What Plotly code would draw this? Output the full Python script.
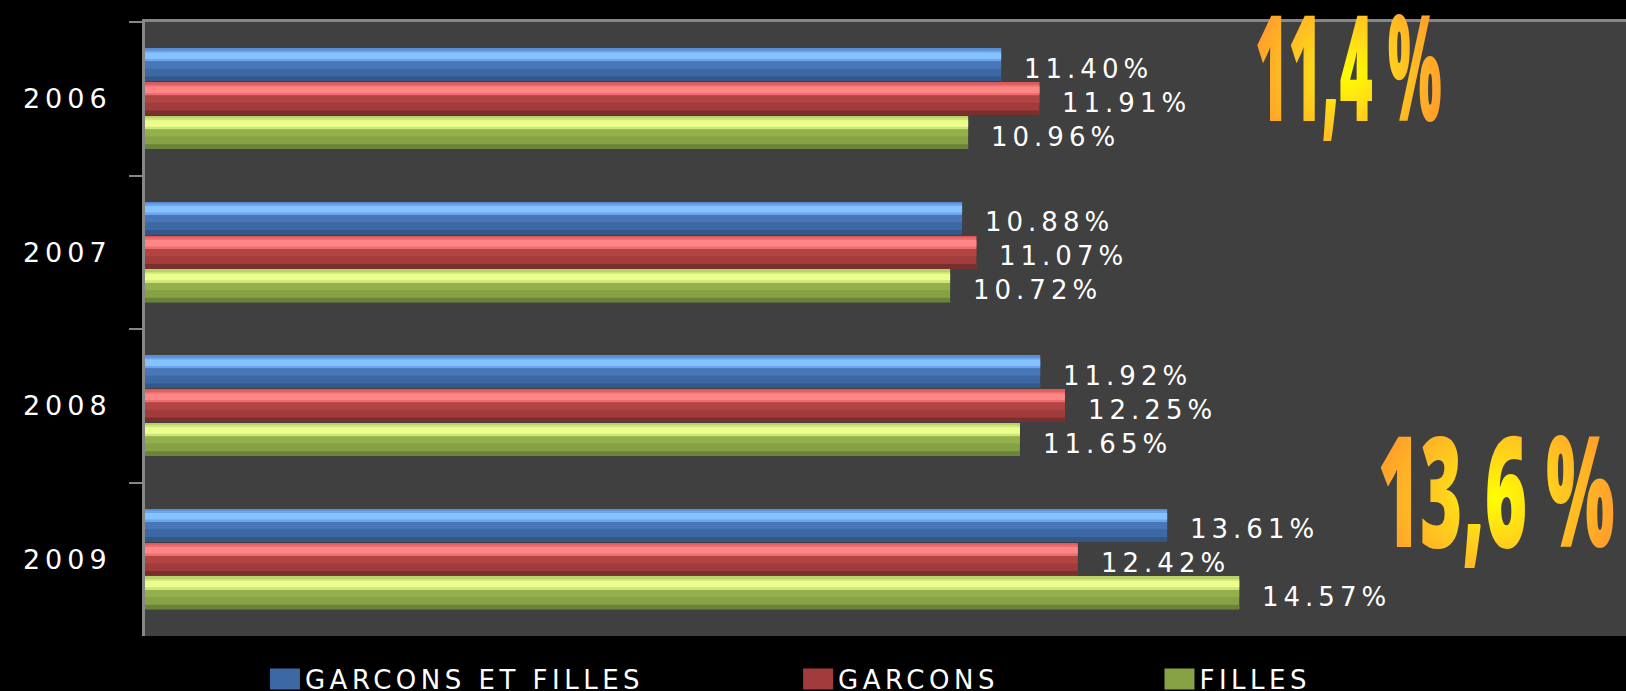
import json
import plotly.graph_objects as go

# ---- data ----
years = ["2006", "2007", "2008", "2009"]
garcons_et_filles = [11.40, 10.88, 11.92, 13.61]
garcons = [11.91, 11.07, 12.25, 12.42]
filles = [10.96, 10.72, 11.65, 14.57]
series_names = ["GARCONS ET FILLES", "GARCONS", "FILLES"]
callouts = ["11,4 %", "13,6 %"]

# ---- style ----
BAR_W = 0.211
STEP = 0.221
centers = [-STEP, 0.0, STEP]
palettes = [
    dict(base="#3c68a4", mid="#4876b8", light1="#6ca6ea", light2="#86c2ff", dark="#33578a", edge="#5a8ed4"),
    dict(base="#a23c3c", mid="#b24444", light1="#ee6e6e", light2="#ff8686", dark="#7a2f2f", edge="#d85c5c"),
    dict(base="#86a244", mid="#93b04c", light1="#cce67a", light2="#ecff8e", dark="#6b8338", edge="#b8d468"),
]
layers = [
    (0.00, 1.00, "base"),
    (0.00, 0.05, "edge"),
    (0.05, 0.40, "light1"),
    (0.12, 0.32, "light2"),
    (0.40, 0.62, "mid"),
    (0.86, 1.00, "dark"),
]

values = [garcons_et_filles, garcons, filles]
legend_ids = ["legend", "legend2", "legend3"]
legend_x = [0.081, 0.441, 0.685]

fig = go.Figure()
LS = "letter-spacing:4.5px"
for si, (vals, name) in enumerate(zip(values, series_names)):
    pal = palettes[si]
    for li, (a, b, key) in enumerate(layers):
        fig.add_trace(go.Bar(
            x=vals, y=years, orientation="h",
            offset=centers[si] - BAR_W / 2 + a * BAR_W,
            width=(b - a) * BAR_W,
            marker=dict(color=pal[key], line=dict(width=0)),
            name=f'<span style="{LS}">{name}</span>',
            showlegend=(li == 0),
            legend=legend_ids[si],
            hoverinfo="skip" if li else "x+y",
        ))

annotations = []
for si, vals in enumerate(values):
    for yi, v in enumerate(vals):
        annotations.append(dict(
            x=v, y=yi + centers[si], xref="x", yref="y",
            text=f'<span style="letter-spacing:5px">{v:.2f}%</span>',
            showarrow=False, xanchor="left", yanchor="middle",
            xshift=21, yshift=-4,
            font=dict(family="DejaVu Sans", size=26, color="white"),
        ))

big_font = dict(family="Noto Sans", size=148, color="#FFB02A", weight=900)
annotations.append(dict(
    x=0.8126, y=0.933, xref="paper", yref="paper", text=callouts[0],
    showarrow=False, xanchor="center", yanchor="middle", font=big_font,
))
annotations.append(dict(
    x=0.912, y=0.242, xref="paper", yref="paper", text=callouts[1],
    showarrow=False, xanchor="center", yanchor="middle", font=dict(big_font, size=154),
))

legend_common = dict(
    orientation="h", yanchor="middle", y=-0.07, xanchor="left",
    bgcolor="rgba(0,0,0,0)", font=dict(family="DejaVu Sans", size=26, color="white"),
)
layout_legends = {}
for lid, lx in zip(legend_ids, legend_x):
    layout_legends[lid] = dict(legend_common, x=lx)

fig.update_layout(
    width=1626, height=691,
    margin=dict(l=145, r=0, t=22, b=55, autoexpand=False),
    paper_bgcolor="black", plot_bgcolor="#404040",
    barmode="overlay",
    showlegend=True,
    annotations=annotations,
    xaxis=dict(range=[0, 19.72], showgrid=False, zeroline=False, showticklabels=False,
               ticks="", side="top", showline=True, linecolor="#878787", linewidth=3),
    yaxis=dict(type="category", categoryorder="array", categoryarray=years,
               range=[3.5, -0.5], showgrid=False, zeroline=False,
               showline=True, linecolor="#878787", linewidth=3,
               ticks="outside", tickson="boundaries", ticklen=13, tickwidth=2, tickcolor="#878787",
               tickfont=dict(family="DejaVu Sans", size=27, color="white"),
               labelalias={y: f'<span style="letter-spacing:5px">{y}</span>' for y in years},
               ticklabelstandoff=25),
    **layout_legends,
)

# condensed, gradient-filled call-out texts (Impact-like look) and larger legend swatches
scales = {callouts[0]: 0.385, callouts[1]: 0.47}
post = """
document.body.style.margin='0px';
document.body.style.background='black';
document.body.style.overflow='hidden';
var gd = document.getElementById('{plot_id}');
var scales = %s;
var NS = 'http://www.w3.org/2000/svg';
var svgs = gd.querySelectorAll('svg.main-svg');
var top = svgs[svgs.length-1];
var defs = document.createElementNS(NS, 'defs');
var g = document.createElementNS(NS, 'radialGradient');
g.setAttribute('id', 'calloutGrad');
g.setAttribute('cx', '50%%'); g.setAttribute('cy', '55%%'); g.setAttribute('r', '55%%');
[['0%%','#ffff00'],['40%%','#ffd21c'],['100%%','#ff982e']].forEach(function(s){
  var st = document.createElementNS(NS, 'stop');
  st.setAttribute('offset', s[0]); st.setAttribute('stop-color', s[1]);
  g.appendChild(st);
});
defs.appendChild(g);
top.insertBefore(defs, top.firstChild);
gd.querySelectorAll('text.annotation-text').forEach(function(t){
  var k = t.textContent.replace(/\\u00a0/g, ' ');
  if (scales[k]) {
    t.style.transformBox = 'fill-box';
    t.style.transformOrigin = '50%% 50%%';
    t.style.transform = 'scaleX(' + scales[k] + ')';
    t.style.fill = 'url(#calloutGrad)';
  }
});
gd.querySelectorAll('.legendpoints path').forEach(function(p){
  p.setAttribute('d', 'M15,10.5H-15V-10.5H15Z');
});
""" % json.dumps(scales)

fig.write_html("out.html", config={"displayModeBar": False}, post_script=post)
